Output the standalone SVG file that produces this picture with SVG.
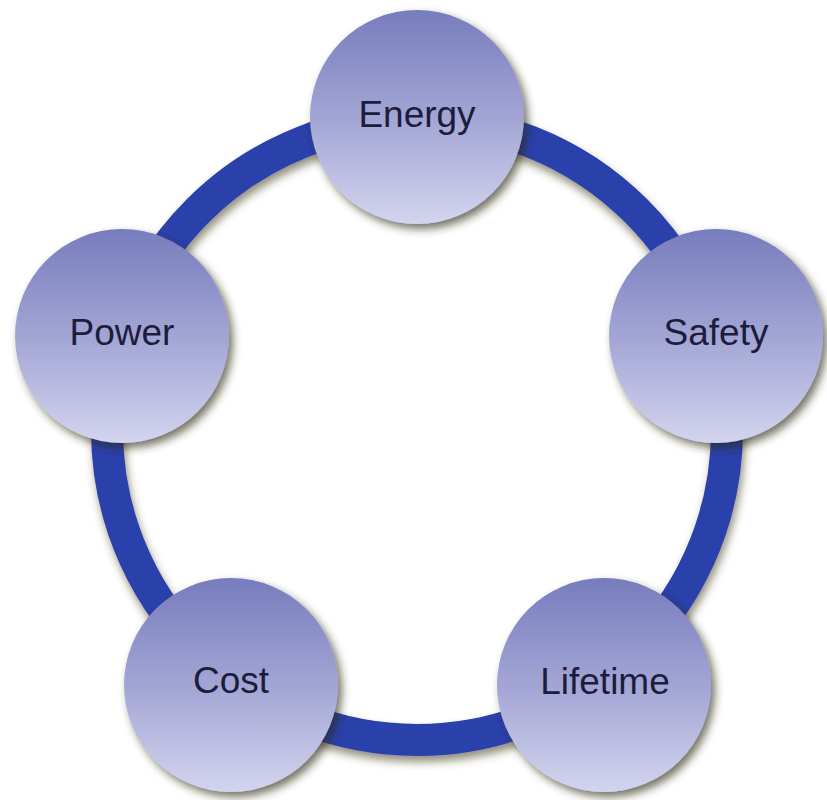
<svg xmlns="http://www.w3.org/2000/svg" width="827" height="800" viewBox="0 0 827 800">
  <defs>
    <linearGradient id="ballFill" x1="0" y1="0" x2="0" y2="1">
      <stop offset="0" stop-color="#777cbd"/>
      <stop offset="0.5" stop-color="#a2a5d4"/>
      <stop offset="1" stop-color="#d3d4ee"/>
    </linearGradient>
    <filter id="shadow" x="-20%" y="-20%" width="140%" height="140%">
      <feDropShadow dx="4" dy="5" stdDeviation="4" flood-color="#2c2a14" flood-opacity="0.65"/>
    </filter>
    <filter id="ringShadow" x="-10%" y="-10%" width="120%" height="120%">
      <feDropShadow dx="2" dy="6" stdDeviation="4" flood-color="#3a3818" flood-opacity="0.55"/>
    </filter>
  </defs>
  <style>
    .ball { fill: url(#ballFill); filter: url(#shadow); }
    .label { font-family: "Liberation Sans", Arial, sans-serif; font-size: 37px; fill: #1c1c3c; text-anchor: middle; }
    .ring { fill: none; stroke: #2b3fab; stroke-width: 32; filter: url(#ringShadow); }
  </style>
  <rect width="827" height="800" fill="#ffffff"/>

  <g id="connectors">
    <circle class="ring" cx="417" cy="430" r="310"/>
  </g>

  <g id="node-energy">
    <circle class="ball" cx="417" cy="117" r="107"/>
    <text class="label" x="417" y="127">Energy</text>
  </g>
  <g id="node-safety">
    <circle class="ball" cx="716" cy="336" r="107"/>
    <text class="label" x="716" y="345">Safety</text>
  </g>
  <g id="node-lifetime">
    <circle class="ball" cx="604" cy="685" r="107"/>
    <text class="label" x="605" y="694">Lifetime</text>
  </g>
  <g id="node-cost">
    <circle class="ball" cx="231" cy="685" r="107"/>
    <text class="label" x="231" y="693">Cost</text>
  </g>
  <g id="node-power">
    <circle class="ball" cx="122" cy="336" r="107"/>
    <text class="label" x="122" y="345">Power</text>
  </g>
</svg>
